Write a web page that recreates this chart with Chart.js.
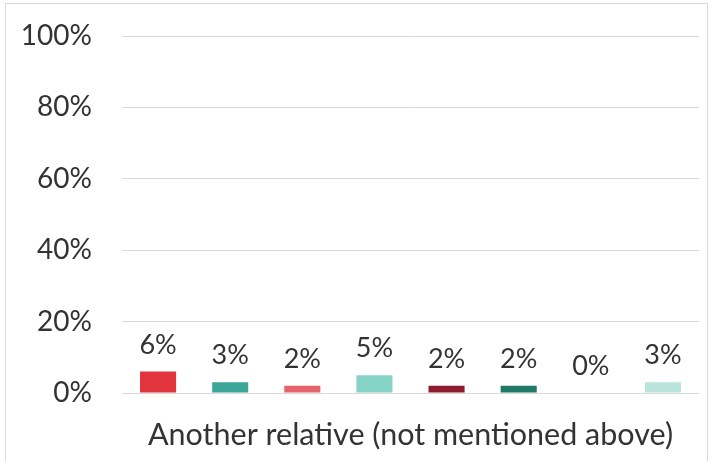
<!DOCTYPE html>
<html>
<head>
<meta charset="utf-8">
<script src="https://cdn.jsdelivr.net/npm/chart.js@4/dist/chart.umd.min.js"></script>
<style>
  html, body { margin: 0; padding: 0; background: #fff; }
  #frame {
    position: absolute; left: 5px; top: 3px; width: 703px; height: 470px;
    border: 1px solid #d9d9d9; box-sizing: border-box;
  }
  #wrap { position: absolute; left: 0; top: 0; width: 711px; height: 461px; }
</style>
</head>
<body>
<div id="frame"></div>
<div id="wrap"><canvas id="chart" width="711" height="461"></canvas></div>
<script>
// categories and series values
const categories = ["Another relative (not mentioned above)"];
const groupNames = ["Group 1", "Group 2", "Group 3", "Group 4", "Group 5", "Group 6", "Group 7", "Group 8"];
const groupValues = [6, 3, 2, 5, 2, 2, 0, 3];
const groupColors = ["#e2343d", "#3ba597", "#e8646c", "#86d4c5", "#8e1c2c", "#217a65", "#c9c9c9", "#b9e4db"];
const yTicks = [0, 20, 40, 60, 80, 100];

const FONT = "Lato, 'Open Sans', sans-serif";
const TEXT = "#333333";

// value labels on top of each bar
const barLabels = {
  id: "barLabels",
  afterDatasetsDraw(chart) {
    const c = chart.ctx;
    c.save();
    c.font = "27px " + FONT;
    c.fillStyle = TEXT;
    c.textAlign = "center";
    c.textBaseline = "bottom";
    chart.data.datasets.forEach((ds, i) => {
      const meta = chart.getDatasetMeta(i);
      meta.data.forEach((bar, j) => {
        c.fillText(ds.data[j] + "%", bar.x, bar.y - 13);
      });
    });
    c.restore();
  }
};

const datasets = groupNames.map((name, i) => ({
  label: name,
  data: [groupValues[i]],
  backgroundColor: groupColors[i],
  barPercentage: 0.5,
  categoryPercentage: 1.0,
}));

new Chart(document.getElementById("chart"), {
  type: "bar",
  data: { labels: categories, datasets },
  options: {
    responsive: false,
    animation: false,
    layout: { padding: { left: 0, right: 12, top: 36, bottom: 0 } },
    plugins: { legend: { display: false }, tooltip: { enabled: false } },
    scales: {
      y: {
        min: 0,
        max: 100,
        afterBuildTicks(axis) { axis.ticks = yTicks.map(v => ({ value: v })); },
        afterFit(axis) { axis.width = 122; axis.paddingTop = 0; axis.paddingBottom = 0; },
        ticks: {
          callback: v => v + "%",
          color: TEXT,
          font: { family: FONT, size: 28 },
          padding: 30,
        },
        grid: { color: "#d9d9d9", drawTicks: false },
        border: { display: false },
      },
      x: {
        afterFit(axis) { axis.height = 68; axis.paddingLeft = 0; axis.paddingRight = 0; },
        ticks: {
          color: TEXT,
          font: { family: FONT, size: 30.5 },
          padding: 24,
        },
        grid: { display: false, drawTicks: false },
        border: { display: false },
      },
    },
  },
  plugins: [barLabels],
});
</script>
</body>
</html>
